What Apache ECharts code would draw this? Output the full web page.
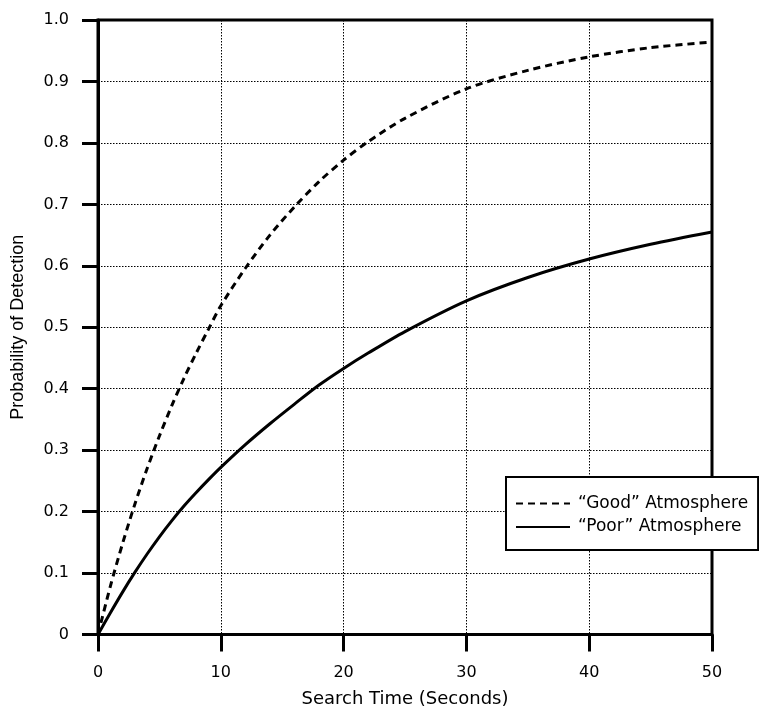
<!DOCTYPE html>
<html>
<head>
<meta charset="utf-8">
<script src="https://cdn.jsdelivr.net/npm/echarts@6/dist/echarts.min.js"></script>
<style>
html,body{margin:0;padding:0;background:#fff;}
#chart{width:759px;height:715px;}
</style>
</head>
<body>
<div id="chart"></div>
<script>
// Data
const timeSec = [0, 1, 2, 3, 4, 5, 6, 7, 8, 9, 10, 12, 14, 16, 18, 20, 22, 25, 30, 35, 40, 45, 50];
const goodP = [0, 0.078, 0.148, 0.212, 0.27, 0.323, 0.372, 0.417, 0.458, 0.497, 0.535, 0.596, 0.65, 0.696, 0.737, 0.772, 0.802, 0.84, 0.888, 0.918, 0.94, 0.955, 0.964];
const poorP = [0, 0.035, 0.069, 0.101, 0.131, 0.159, 0.185, 0.209, 0.231, 0.252, 0.272, 0.309, 0.343, 0.375, 0.406, 0.433, 0.458, 0.493, 0.543, 0.581, 0.611, 0.635, 0.655];
const seriesNames = ['\u201cGood\u201d Atmosphere', '\u201cPoor\u201d Atmosphere'];
const xTitle = 'Search Time (Seconds)';
const yTitle = 'Probability of Detection';

const wide = 'DejaVu Sans, Verdana, sans-serif';
const narrow = 'Liberation Sans, Arial, Helvetica, sans-serif';
const chart = echarts.init(document.getElementById('chart'), null, {renderer: 'canvas'});

const pairs = (xs, ys) => xs.map((x, i) => [x, ys[i]]);

chart.setOption({
  animation: false,
  backgroundColor: '#fff',
  grid: {
    left: 98, right: 47, top: 20, bottom: 80.5,
    outerBoundsMode: 'none', containLabel: false,
    show: true, borderColor: '#000', borderWidth: 3, backgroundColor: 'transparent'
  },
  xAxis: {
    type: 'value', min: 0, max: 50, interval: 10,
    name: xTitle, nameLocation: 'middle', nameGap: 56,
    nameTextStyle: {fontFamily: wide, fontSize: 18, color: '#000'},
    axisLine: {show: true, onZero: false, lineStyle: {color: '#000', width: 3}},
    axisTick: {show: true, inside: false, length: 17, lineStyle: {color: '#000', width: 3}},
    axisLabel: {fontFamily: wide, fontSize: 16, color: '#000', margin: 30},
    splitLine: {show: true, lineStyle: {color: '#000', width: 1, type: [1.5, 1.5]}}
  },
  yAxis: {
    type: 'value', min: 0, max: 1, interval: 0.1,
    name: yTitle, nameLocation: 'middle', nameGap: 71, nameRotate: 90,
    nameTextStyle: {fontFamily: narrow, fontSize: 18, color: '#000'},
    axisLine: {show: true, onZero: false, lineStyle: {color: '#000', width: 3}},
    axisTick: {show: true, inside: false, length: 16, lineStyle: {color: '#000', width: 3}},
    axisLabel: {fontFamily: wide, fontSize: 16, color: '#000', margin: 29,
      formatter: v => v === 0 ? '0' : v.toFixed(1)},
    splitLine: {show: true, lineStyle: {color: '#000', width: 1, type: [1.5, 1.5]}}
  },
  legend: {
    left: 506, top: 477,
    orient: 'vertical',
    backgroundColor: '#fff', borderColor: '#000', borderWidth: 2,
    padding: [18, 10, 14.5, 9],
    itemWidth: 54, itemHeight: 14, itemGap: 6.5,
    itemStyle: {opacity: 0},
    textStyle: {fontFamily: wide, fontSize: 17, color: '#000', lineHeight: 17, padding: [0, 0, 0, 3]},
    data: seriesNames
  },
  series: [
    {
      name: seriesNames[0], type: 'line', data: pairs(timeSec, goodP),
      showSymbol: false, symbol: 'none', smooth: 0.3,
      lineStyle: {color: '#000', width: 3, type: [7, 5]},
      itemStyle: {color: '#000'}
    },
    {
      name: seriesNames[1], type: 'line', data: pairs(timeSec, poorP),
      showSymbol: false, symbol: 'none', smooth: 0.3,
      lineStyle: {color: '#000', width: 3, type: 'solid'},
      itemStyle: {color: '#000'}
    }
  ]
});
</script>
</body>
</html>
